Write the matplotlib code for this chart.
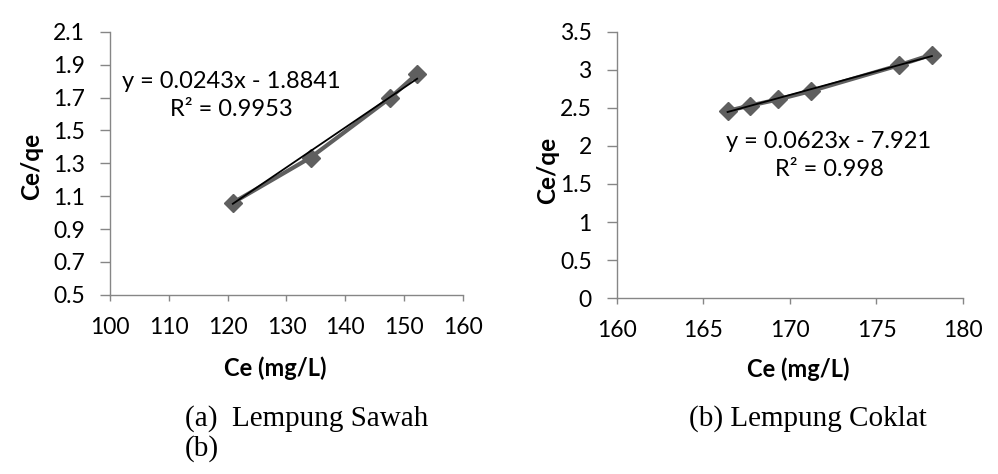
import matplotlib
matplotlib.use("Agg")
import matplotlib.pyplot as plt
import numpy as np

# Lempung Sawah
ce_sawah = [120.9, 134.1, 147.6, 152.2]
ceqe_sawah = [1.06, 1.335, 1.697, 1.845]
# Lempung Coklat
ce_coklat = [166.4, 167.7, 169.3, 171.2, 176.3, 178.2]
ceqe_coklat = [2.46, 2.53, 2.61, 2.72, 3.06, 3.20]

fit_sawah = (0.0243, -1.8841)
fit_coklat = (0.0623, -7.921)

sans = ["Lato", "DejaVu Sans"]
serif = ["Liberation Serif", "DejaVu Serif"]
axis_gray = "#868686"
marker_gray = "#5f5f5f"


def style_axes(ax):
    for s in ["top", "right"]:
        ax.spines[s].set_visible(False)
    for s in ["left", "bottom"]:
        ax.spines[s].set_color(axis_gray)
        ax.spines[s].set_linewidth(1.0)
    ax.tick_params(axis="x", direction="out", length=4, width=1, color=axis_gray,
                   labelsize=16.5, pad=12)
    ax.tick_params(axis="y", direction="out", length=7, width=1, color=axis_gray,
                   labelsize=16.5, pad=11)
    for lab in ax.get_xticklabels() + ax.get_yticklabels():
        lab.set_family(sans)


def draw(ax, x, y, fit):
    ax.plot(x, y, color=marker_gray, lw=3, marker="D", ms=9,
            mfc=marker_gray, mec=marker_gray, zorder=2)
    xs = np.array([min(x), max(x)])
    ax.plot(xs, fit[0] * xs + fit[1], color="black", lw=1.3, zorder=3)


fig = plt.figure(figsize=(9.98, 4.74), dpi=100)

ax1 = fig.add_axes([0.110, 0.378, 0.354, 0.555])
draw(ax1, ce_sawah, ceqe_sawah, fit_sawah)
ax1.set_xlim(100, 160)
ax1.set_ylim(0.5, 2.1)
ax1.set_xticks(np.arange(100, 161, 10))
ax1.set_yticks(np.round(np.arange(0.5, 2.11, 0.2), 1))
style_axes(ax1)
ax1.set_xlabel("Ce (mg/L)", family=sans, fontweight="bold", fontsize=17)
ax1.set_ylabel("Ce/qe", family=sans, fontweight="bold", fontsize=17.5)
ax1.xaxis.set_label_coords(0.467, -0.235)
ax1.yaxis.set_label_coords(-0.19, 0.487)
ax1.text(0.343, 0.757, "y = 0.0243x - 1.8841\nR² = 0.9953", transform=ax1.transAxes,
         ha="center", va="center", family=sans, fontsize=17, linespacing=1.4)

ax2 = fig.add_axes([0.618, 0.371, 0.347, 0.562])
draw(ax2, ce_coklat, ceqe_coklat, fit_coklat)
ax2.set_xlim(160, 180)
ax2.set_ylim(0, 3.5)
ax2.set_xticks(np.arange(160, 181, 5))
ax2.set_yticks(np.arange(0, 3.6, 0.5))
ax2.set_yticklabels(["0", "0.5", "1", "1.5", "2", "2.5", "3", "3.5"])
style_axes(ax2)
ax2.set_xlabel("Ce (mg/L)", family=sans, fontweight="bold", fontsize=17)
ax2.set_ylabel("Ce/qe", family=sans, fontweight="bold", fontsize=17.5)
ax2.xaxis.set_label_coords(0.523, -0.222)
ax2.yaxis.set_label_coords(-0.165, 0.48)
ax2.text(0.613, 0.534, "y = 0.0623x - 7.921\nR² = 0.998", transform=ax2.transAxes,
         ha="center", va="center", family=sans, fontsize=17, linespacing=1.4)

fig.text(0.185, 1 - 419 / 474, "(a)  Lempung Sawah", family=serif, fontsize=21, va="center")
fig.text(0.185, 1 - 449 / 474, "(b)", family=serif, fontsize=21, va="center")
fig.text(0.690, 1 - 419 / 474, "(b) Lempung Coklat", family=serif, fontsize=21, va="center")

fig.savefig("out.png", dpi=100)
